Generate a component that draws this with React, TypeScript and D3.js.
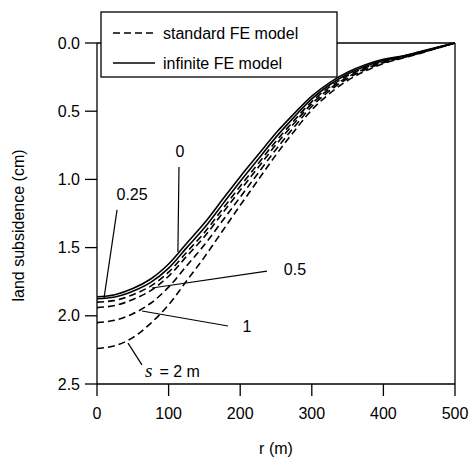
import React from "react";
import * as d3 from "d3";

// r (m) sample positions
const rValues = [0, 25, 50, 75, 100, 125, 150, 175, 200, 225, 250, 275, 300, 325, 350, 375, 400, 425, 450, 475, 500];

// land subsidence (cm) per curve
const infiniteS0 = [1.86, 1.845, 1.8, 1.73, 1.62, 1.47, 1.32, 1.15, 0.98, 0.82, 0.66, 0.52, 0.39, 0.29, 0.215, 0.16, 0.12, 0.097, 0.065, 0.032, 0];
const infiniteS025 = [1.875, 1.862, 1.82, 1.755, 1.65, 1.502, 1.355, 1.185, 1.015, 0.853, 0.69, 0.545, 0.41, 0.306, 0.227, 0.17, 0.128, 0.1, 0.068, 0.034, 0];
const standardS025 = [1.9, 1.887, 1.845, 1.782, 1.68, 1.535, 1.39, 1.22, 1.05, 0.885, 0.72, 0.57, 0.43, 0.322, 0.24, 0.18, 0.135, 0.104, 0.071, 0.035, 0];
const standardS05 = [1.94, 1.925, 1.88, 1.815, 1.71, 1.565, 1.42, 1.25, 1.08, 0.913, 0.745, 0.59, 0.445, 0.335, 0.25, 0.187, 0.14, 0.108, 0.073, 0.036, 0];
const standardS1 = [2.05, 2.033, 1.985, 1.908, 1.79, 1.635, 1.48, 1.305, 1.13, 0.955, 0.78, 0.618, 0.465, 0.35, 0.26, 0.195, 0.145, 0.11, 0.075, 0.037, 0];
const standardS2 = [2.24, 2.22, 2.16, 2.055, 1.92, 1.745, 1.57, 1.38, 1.19, 1.005, 0.82, 0.65, 0.49, 0.37, 0.275, 0.205, 0.15, 0.114, 0.078, 0.039, 0];

const curveNames = ["infiniteS0", "infiniteS025", "standardS025", "standardS05", "standardS1", "standardS2"];
const curveValues = [infiniteS0, infiniteS025, standardS025, standardS05, standardS1, standardS2];
const curveDashed = [false, false, true, true, true, true];

const xTicks = [0, 100, 200, 300, 400, 500];
const yTicks = [0, 0.5, 1.0, 1.5, 2.0, 2.5];

const legendLabels = ["standard FE model", "infinite FE model"];

// annotation labels: text position and leader line, in data units (r, cm)
const annoText = ["0", "0.25", "0.5", "1"];
const annoTextPos = [[116, 0.792], [49, 1.114], [276.5, 1.657], [209.5, 2.075]];
const annoLeaderFrom = [[114.5, 0.909], [28, 1.224], [237.4, 1.672], [183, 2.075]];
const annoLeaderTo = [[113, 1.532], [9.8, 1.87], [76.8, 1.796], [62.8, 1.965]];
const sLabelPos = [67, 2.45];
const sLeaderFrom = [62.8, 2.36];
const sLeaderTo = [43.3, 2.2];

const W = 471;
const H = 458;
const FONT = "'Liberation Sans', Arial, Helvetica, sans-serif";

export default function App() {
  const x = d3.scaleLinear().domain([0, 500]).range([97, 455]);
  const y = d3.scaleLinear().domain([0, 2.5]).range([43, 384]);

  const line = d3
    .line<number>()
    .x((_, i) => x(rValues[i]))
    .y((d) => y(d))
    .curve(d3.curveCatmullRom.alpha(0.5));

  const fs = 16;

  return (
    <svg
      width={W}
      height={H}
      style={{ position: "absolute", left: 0, top: 0, background: "#fff" }}
      fontFamily={FONT}
    >
      <rect x={0} y={0} width={W} height={H} fill="#fff" />
      {/* curves */}
      <g fill="none" stroke="#000">
        {curveValues.map((vals, i) => (
          <path
            key={curveNames[i]}
            d={line(vals) || ""}
            strokeWidth={1.6}
            strokeDasharray={curveDashed[i] ? "7,4" : undefined}
          />
        ))}
      </g>
      {/* frame */}
      <g stroke="#000" strokeWidth={1.3} fill="none">
        <line x1={x(0)} x2={x(500)} y1={y(0)} y2={y(0)} />
        <line x1={x(500)} x2={x(500)} y1={y(0)} y2={y(2.5)} />
        <line x1={x(0)} x2={x(500)} y1={y(2.5)} y2={y(2.5)} />
        <line x1={x(0)} x2={x(0)} y1={y(0)} y2={y(2.5)} />
      </g>
      {/* x axis ticks */}
      <g>
        {xTicks.map((t) => (
          <g key={t}>
            <line x1={x(t)} x2={x(t)} y1={y(2.5)} y2={y(2.5) + 12} stroke="#000" strokeWidth={1.3} />
            <text x={x(t)} y={413} textAnchor="middle" dominantBaseline="central" fontSize={fs}>
              {t}
            </text>
          </g>
        ))}
        <text x={(x(0) + x(500)) / 2} y={448} textAnchor="middle" dominantBaseline="central" fontSize={fs}>
          r (m)
        </text>
      </g>
      {/* y axis ticks */}
      <g>
        {yTicks.map((t) => (
          <g key={t}>
            <line x1={x(0) - 12} x2={x(0)} y1={y(t)} y2={y(t)} stroke="#000" strokeWidth={1.3} />
            <text x={80} y={y(t)} textAnchor="end" dominantBaseline="central" fontSize={fs}>
              {t.toFixed(1)}
            </text>
          </g>
        ))}
        <text
          transform={`translate(18, ${(y(0) + y(2.5)) / 2 + 12}) rotate(-90)`}
          textAnchor="middle"
          dominantBaseline="central"
          fontSize={fs}
        >
          land subsidence (cm)
        </text>
      </g>
      {/* annotations */}
      <g>
        {annoText.map((t, i) => (
          <g key={t}>
            <line
              x1={x(annoLeaderFrom[i][0])}
              y1={y(annoLeaderFrom[i][1])}
              x2={x(annoLeaderTo[i][0])}
              y2={y(annoLeaderTo[i][1])}
              stroke="#000"
              strokeWidth={1.2}
            />
            <text
              x={x(annoTextPos[i][0])}
              y={y(annoTextPos[i][1])}
              textAnchor="middle"
              dominantBaseline="central"
              fontSize={fs}
            >
              {t}
            </text>
          </g>
        ))}
        <line
          x1={x(sLeaderFrom[0])}
          y1={y(sLeaderFrom[1])}
          x2={x(sLeaderTo[0])}
          y2={y(sLeaderTo[1])}
          stroke="#000"
          strokeWidth={1.2}
        />
        <text x={x(sLabelPos[0])} y={y(sLabelPos[1])} fontSize={fs}>
          <tspan fontFamily="'Liberation Serif', 'Times New Roman', serif" fontStyle="italic" fontSize={19}>
            s
          </tspan>
          <tspan dx={7}>= 2 m</tspan>
        </text>
      </g>
      {/* legend */}
      <g>
        <rect x={101} y={12} width={236} height={65} fill="#fff" stroke="#000" strokeWidth={1.3} />
        <line x1={113} x2={155} y1={33} y2={33} stroke="#000" strokeWidth={1.6} strokeDasharray="7,4" />
        <line x1={113} x2={155} y1={63} y2={63} stroke="#000" strokeWidth={1.6} />
        <text x={163} y={33} dominantBaseline="central" fontSize={fs}>
          {legendLabels[0]}
        </text>
        <text x={163} y={63} dominantBaseline="central" fontSize={fs}>
          {legendLabels[1]}
        </text>
      </g>
    </svg>
  );
}
